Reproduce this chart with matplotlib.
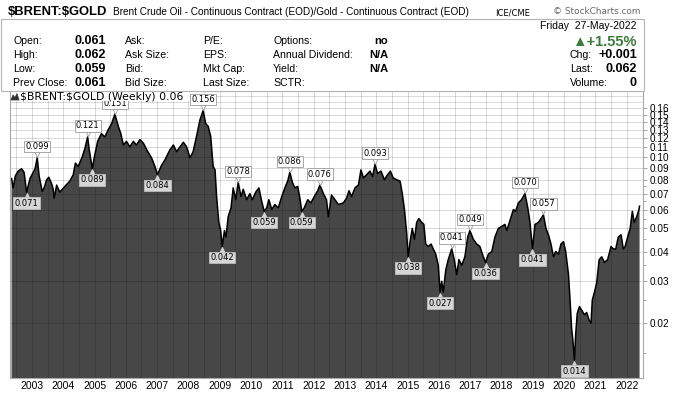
import matplotlib.pyplot as plt
from matplotlib.patches import Rectangle, Polygon
from matplotlib.ticker import FixedLocator, NullLocator
import matplotlib.transforms as mtransforms

plt.rcParams['font.family'] = ['Liberation Sans', 'DejaVu Sans']

W, H = 675, 394

# weekly Brent/Gold ratio (decimal years)
dates = [
    2002.35, 2002.40, 2002.47, 2002.56, 2002.67, 2002.75, 2002.83, 2002.94, 2003.10, 2003.17,
    2003.23, 2003.33, 2003.39, 2003.47, 2003.54, 2003.63, 2003.68, 2003.71, 2003.79, 2003.89,
    2004.05, 2004.21, 2004.32, 2004.39, 2004.48, 2004.61, 2004.69, 2004.78, 2004.83, 2004.93,
    2004.99, 2005.10, 2005.22, 2005.33, 2005.44, 2005.55, 2005.65, 2005.76, 2005.84, 2005.92,
    2006.02, 2006.13, 2006.24, 2006.34, 2006.45, 2006.56, 2006.70, 2006.82, 2006.93, 2007.01,
    2007.14, 2007.25, 2007.41, 2007.52, 2007.62, 2007.73, 2007.84, 2007.94, 2008.05, 2008.15,
    2008.26, 2008.37, 2008.47, 2008.55, 2008.63, 2008.71, 2008.79, 2008.85, 2008.90, 2008.97,
    2009.03, 2009.08, 2009.15, 2009.20, 2009.27, 2009.36, 2009.43, 2009.51, 2009.59, 2009.68,
    2009.75, 2009.86, 2009.96, 2010.04, 2010.15, 2010.25, 2010.34, 2010.42, 2010.50, 2010.57,
    2010.66, 2010.76, 2010.87, 2010.98, 2011.08, 2011.17, 2011.24, 2011.32, 2011.40, 2011.49,
    2011.56, 2011.62, 2011.70, 2011.81, 2011.91, 2012.02, 2012.13, 2012.20, 2012.31, 2012.41,
    2012.47, 2012.57, 2012.68, 2012.79, 2012.95, 2013.05, 2013.13, 2013.21, 2013.32, 2013.43,
    2013.51, 2013.59, 2013.69, 2013.80, 2013.88, 2013.96, 2014.04, 2014.15, 2014.26, 2014.36,
    2014.45, 2014.54, 2014.65, 2014.76, 2014.83, 2014.90, 2014.97, 2015.02, 2015.08, 2015.15,
    2015.22, 2015.29, 2015.36, 2015.45, 2015.52, 2015.58, 2015.66, 2015.75, 2015.82, 2015.90,
    2015.98, 2016.04, 2016.09, 2016.14, 2016.22, 2016.30, 2016.41, 2016.49, 2016.57, 2016.64,
    2016.73, 2016.83, 2016.92, 2016.99, 2017.10, 2017.21, 2017.31, 2017.42, 2017.49, 2017.58,
    2017.69, 2017.79, 2017.90, 2018.01, 2018.11, 2018.17, 2018.27, 2018.38, 2018.45, 2018.54,
    2018.64, 2018.75, 2018.84, 2018.91, 2018.99, 2019.07, 2019.18, 2019.26, 2019.34, 2019.42,
    2019.50, 2019.58, 2019.66, 2019.73, 2019.82, 2019.90, 2019.98, 2020.05, 2020.14, 2020.19,
    2020.24, 2020.28, 2020.33, 2020.37, 2020.42, 2020.49, 2020.56, 2020.65, 2020.72, 2020.80,
    2020.86, 2020.90, 2020.97, 2021.04, 2021.12, 2021.20, 2021.29, 2021.39, 2021.50, 2021.57,
    2021.65, 2021.73, 2021.82, 2021.89, 2021.95, 2022.03, 2022.11, 2022.18, 2022.24, 2022.32,
    2022.39, 2022.41,
]
ratio = [
    0.081, 0.074, 0.083, 0.087, 0.089, 0.086, 0.071, 0.081, 0.089, 0.099,
    0.083, 0.0715, 0.074, 0.080, 0.082, 0.077, 0.073, 0.067, 0.076, 0.071,
    0.075, 0.079, 0.084, 0.094, 0.091, 0.100, 0.108, 0.121, 0.107, 0.089,
    0.099, 0.116, 0.125, 0.121, 0.130, 0.138, 0.151, 0.134, 0.125, 0.112,
    0.116, 0.110, 0.116, 0.112, 0.118, 0.114, 0.105, 0.099, 0.091, 0.084,
    0.092, 0.097, 0.107, 0.112, 0.105, 0.110, 0.115, 0.110, 0.099, 0.105,
    0.122, 0.143, 0.156, 0.138, 0.134, 0.122, 0.091, 0.088, 0.068, 0.053,
    0.049, 0.042, 0.049, 0.046, 0.056, 0.061, 0.074, 0.066, 0.078, 0.068,
    0.073, 0.066, 0.070, 0.066, 0.071, 0.074, 0.065, 0.059, 0.061, 0.066,
    0.060, 0.063, 0.061, 0.068, 0.074, 0.079, 0.086, 0.078, 0.074, 0.075,
    0.067, 0.059, 0.061, 0.066, 0.064, 0.068, 0.072, 0.076, 0.070, 0.066,
    0.056, 0.069, 0.066, 0.063, 0.064, 0.067, 0.072, 0.068, 0.074, 0.076,
    0.088, 0.0815, 0.084, 0.087, 0.0825, 0.093, 0.085, 0.087, 0.080, 0.084,
    0.087, 0.0815, 0.080, 0.079, 0.070, 0.060, 0.048, 0.038, 0.044, 0.050,
    0.045, 0.053, 0.055, 0.053, 0.052, 0.043, 0.042, 0.043, 0.041, 0.039,
    0.035, 0.027, 0.030, 0.027, 0.0335, 0.037, 0.041, 0.037, 0.032, 0.037,
    0.035, 0.038, 0.046, 0.049, 0.045, 0.043, 0.042, 0.038, 0.036, 0.039,
    0.040, 0.046, 0.050, 0.051, 0.052, 0.049, 0.054, 0.060, 0.059, 0.064,
    0.066, 0.070, 0.061, 0.053, 0.041, 0.052, 0.053, 0.055, 0.057, 0.050,
    0.047, 0.043, 0.038, 0.040, 0.039, 0.043, 0.044, 0.040, 0.032, 0.025,
    0.019, 0.017, 0.014, 0.018, 0.022, 0.0235, 0.0227, 0.0217, 0.0222, 0.0206,
    0.020, 0.025, 0.027, 0.0295, 0.037, 0.038, 0.036, 0.037, 0.042, 0.041,
    0.041, 0.046, 0.047, 0.041, 0.042, 0.046, 0.050, 0.059, 0.053, 0.056,
    0.060, 0.062,
]

# labelled highs and lows
peak_dates = [2003.17, 2004.78, 2005.65, 2008.47, 2009.59, 2011.24, 2012.20, 2013.96,
              2016.41, 2016.99, 2018.75, 2019.34]
peak_vals = [0.099, 0.121, 0.151, 0.156, 0.078, 0.086, 0.076, 0.093,
             0.041, 0.049, 0.070, 0.057]
trough_dates = [2002.83, 2004.93, 2007.01, 2009.08, 2010.42, 2011.62, 2015.02, 2016.04,
                2017.49, 2018.99, 2020.33]
trough_vals = [0.071, 0.089, 0.084, 0.042, 0.059, 0.059, 0.038, 0.027,
               0.036, 0.041, 0.014]

year_ticks = list(range(2003, 2023))
price_ticks = [0.02, 0.03, 0.04, 0.05, 0.06, 0.07, 0.08, 0.09,
               0.10, 0.11, 0.12, 0.13, 0.14, 0.15, 0.16]
price_grid = price_ticks + [0.17, 0.18]
minor_ticks = [0.015, 0.025, 0.035, 0.045, 0.055, 0.065, 0.075]

row_y = [41.5, 55.5, 69.5, 83.5]
col1_labels = ['Open:', 'High:', 'Low:', 'Prev Close:']
col1_values = ['0.061', '0.062', '0.059', '0.061']
col2_labels = ['Ask:', 'Ask Size:', 'Bid:', 'Bid Size:']
col3_labels = ['P/E:', 'EPS:', 'Mkt Cap:', 'Last Size:']
col4_labels = ['Options:', 'Annual Dividend:', 'Yield:', 'SCTR:']
col4_values = ['no', 'N/A', 'N/A', '']
right_labels = ['Chg:', 'Last:', 'Volume:']
right_values = ['+0.001', '0.062', '0']


def fx(px):
    return px / W


def fy(py):
    return 1 - py / H


def draw_header(fig):
    fig.add_artist(Rectangle((fx(1), fy(91)), fx(644) - fx(1), fy(19) - fy(91),
                             transform=fig.transFigure, fc='white', ec='#b4b4b4', lw=0.8))
    fig.text(fx(8), fy(12), r'\$BRENT:\$GOLD', fontsize=9.4, fontweight='bold', va='center')
    fig.text(fx(113), fy(12), 'Brent Crude Oil - Continuous Contract (EOD)/Gold - Continuous Contract (EOD)',
             fontsize=7.2, va='center')
    fig.text(fx(495), fy(12.5), 'ICE/CME', fontsize=6, family='DejaVu Sans', va='center')
    fig.text(fx(553), fy(12), '\u00a9 StockCharts.com', fontsize=6.4, family='DejaVu Sans',
             color='#666666', va='center')
    fig.text(fx(637), fy(26), 'Friday  27-May-2022', fontsize=7.5, ha='right', va='center')

    for i, y in enumerate(row_y):
        fig.text(fx(13), fy(y), col1_labels[i], fontsize=7.6, va='center')
        fig.text(fx(106), fy(y), col1_values[i], fontsize=9, fontweight='bold', ha='right', va='center')
        fig.text(fx(125), fy(y), col2_labels[i], fontsize=7.6, va='center')
        fig.text(fx(203), fy(y), col3_labels[i], fontsize=7.6, va='center')
        fig.text(fx(273), fy(y), col4_labels[i], fontsize=7.6, va='center')
        fig.text(fx(388), fy(y), col4_values[i], fontsize=8, fontweight='bold', ha='right', va='center')

    fig.text(fx(637), fy(row_y[0]), '\u25b2+1.55%', fontsize=10.5, fontweight='bold',
             color='#3a7a3a', ha='right', va='center')
    for i, y in enumerate(row_y[1:]):
        fig.text(fx(570), fy(y), right_labels[i], fontsize=7.6, va='center')
        fig.text(fx(637), fy(y), right_values[i], fontsize=9, fontweight='bold', ha='right', va='center')


def draw_chart(fig):
    ax = fig.add_axes([fx(10), fy(378), fx(643) - fx(10), fy(91) - fy(378)])
    ax.set_yscale('log')
    ax.set_xlim(2002.30, 2022.52)
    ax.set_ylim(0.01178, 0.1887)

    for v in price_grid:
        ax.axhline(v, color='black', alpha=0.15, lw=0.7, zorder=1.5)
    for k in range(40):
        ax.axvline(2002.5 + 0.5 * k, color='black', alpha=0.15, lw=0.7, zorder=1.5)

    ax.fill_between(dates, ratio, 0.001, color='#474747', lw=0, zorder=1)
    ax.plot(dates, ratio, color='black', lw=1.1, zorder=2)

    ax.yaxis.tick_right()
    ax.yaxis.set_major_locator(FixedLocator(price_ticks))
    ax.yaxis.set_minor_locator(FixedLocator(minor_ticks))
    ax.yaxis.set_major_formatter(plt.FixedFormatter([f'{v:.2f}' for v in price_ticks]))
    ax.yaxis.set_minor_formatter(plt.NullFormatter())
    ax.tick_params(axis='y', which='major', labelsize=7.2, length=3, width=0.6,
                   color='#999999', pad=2)
    ax.tick_params(axis='y', which='minor', length=2, width=0.6, color='#999999')

    ax.set_xticks(year_ticks)
    ax.set_xticklabels([str(y) for y in year_ticks])
    ax.xaxis.set_minor_locator(NullLocator())
    ax.tick_params(axis='x', labelsize=7.5, length=0, pad=2)

    for sp in ax.spines.values():
        sp.set_color('#a8a8a8')
        sp.set_linewidth(0.8)

    up = mtransforms.offset_copy(ax.transData, fig=fig, x=0, y=3.5, units='dots')
    down = mtransforms.offset_copy(ax.transData, fig=fig, x=0, y=-3.5, units='dots')
    for d, v in zip(peak_dates, peak_vals):
        ax.plot(d, v, marker='v', ms=5, color='white', mec='#9a9a9a', mew=0.6,
                transform=up, zorder=4, clip_on=False)
        ax.annotate(f'{v:.3f}', xy=(d, v), xytext=(0, 6.5), textcoords='offset pixels',
                    ha='center', va='bottom', fontsize=6, family='DejaVu Sans', zorder=5,
                    bbox=dict(boxstyle='square,pad=0.15', fc='white', ec='#9a9a9a', lw=0.6))
    for d, v in zip(trough_dates, trough_vals):
        ax.plot(d, v, marker='^', ms=5, color='#d6d6d6', mec='#d6d6d6', mew=0.6,
                transform=down, zorder=4, clip_on=False)
        ax.annotate(f'{v:.3f}', xy=(d, v), xytext=(0, -6.5), textcoords='offset pixels',
                    ha='center', va='top', fontsize=6, family='DejaVu Sans', zorder=5,
                    bbox=dict(boxstyle='square,pad=0.15', fc='#d6d6d6', ec='#bdbdbd', lw=0.6))
    return ax


def draw_legend(fig):
    fig.add_artist(Rectangle((fx(10.5), fy(101)), fx(189) - fx(10.5), fy(91.5) - fy(101),
                             transform=fig.transFigure, fc='white', ec='none', zorder=10))
    icon = [(11, 100), (13, 95), (15, 97.5), (17, 93.5), (19, 100)]
    fig.add_artist(Polygon([(fx(x), fy(y)) for x, y in icon], closed=True,
                           transform=fig.transFigure, fc='#333333', ec='#333333', lw=0.5, zorder=11))
    fig.text(fx(20), fy(96.5), r'\$BRENT:\$GOLD (Weekly) 0.06', fontsize=7.8,
             family='DejaVu Sans', va='center', zorder=11)


def main():
    fig = plt.figure(figsize=(W / 100, H / 100), dpi=100)
    draw_header(fig)
    draw_chart(fig)
    draw_legend(fig)
    fig.savefig('out.png', dpi=100)


if __name__ == "__main__":
    main()
